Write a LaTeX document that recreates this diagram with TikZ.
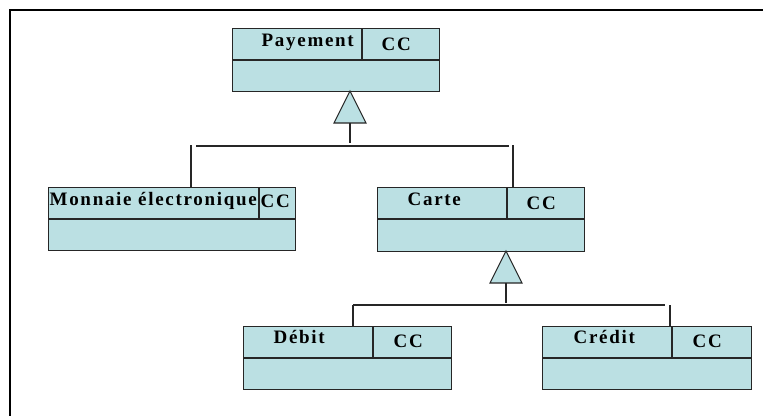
\documentclass[tikz,border=0pt]{standalone}
\usepackage{fontspec}
\setmainfont{Liberation Serif}[LetterSpace=9]
\begin{document}
\begin{tikzpicture}[x=1pt,y=-1pt,line width=1.3pt,
  classbox/.style={draw=black!85, fill=umlfill, rectangle, inner sep=0pt,
    anchor=north west},
  lbl/.style={inner sep=0pt, anchor=base west, font=\fontsize{19}{21}\selectfont\bfseries},
  link/.style={draw=black!85, line width=1.3pt},
  gen/.style={draw=black!85, fill=umlfill, line width=1.1pt, line join=miter}]
\definecolor{umlfill}{RGB}{187,224,227}
\useasboundingbox (0,0) rectangle (763,415);
% frame (only top and left edges fall inside the page)
\draw[line width=1.4pt] (10,430) -- (10,10) -- (780,10);

% class boxes: name compartment + empty attribute compartment
\node[classbox, minimum width=207pt, minimum height=63pt] (pay) at (232,28) {};
\node[classbox, minimum width=247pt, minimum height=63pt] (mon) at (48,187) {};
\node[classbox, minimum width=207pt, minimum height=64pt] (car) at (377,187) {};
\node[classbox, minimum width=208pt, minimum height=63pt] (deb) at (243,326) {};
\node[classbox, minimum width=209pt, minimum height=63pt] (cre) at (542,326) {};

\draw[link] (pay.west |- 0,60) -- (pay.east |- 0,60) (362,28) -- (362,60);
\draw[link] (mon.west |- 0,219) -- (mon.east |- 0,219) (259,187) -- (259,219);
\draw[link] (car.west |- 0,219) -- (car.east |- 0,219) (507,187) -- (507,219);
\draw[link] (deb.west |- 0,358) -- (deb.east |- 0,358) (373,326) -- (373,358);
\draw[link] (cre.west |- 0,358) -- (cre.east |- 0,358) (672,326) -- (672,358);

% labels
\node[lbl] (payn) at (261,46) {Payement};
\node[lbl] (payc) at (381,50) {CC};
\node[lbl] (monn) at (49,205) {Monnaie électronique};
\node[lbl] (monc) at (260,207) {CC};
\node[lbl] (carn) at (407,205) {Carte};
\node[lbl] (carc) at (526,209) {CC};
\node[lbl] (debn) at (273,343) {Débit};
\node[lbl] (debc) at (393,347) {CC};
\node[lbl] (cren) at (573,343) {Crédit};
\node[lbl] (crec) at (692,347) {CC};

% generalisation: Payement <- {Monnaie électronique, Carte}
\coordinate (a1) at (350,91);
\coordinate (t1) at (350,123);
\coordinate (b1) at (350,143);
\coordinate (m1) at (191,145);
\coordinate (c1) at (513,145);
\draw[gen] (a1) -- (334,123) -- (366,123) -- cycle;
\draw[link] (t1) -- (b1);
\draw[link] (196,146) -- (509,146);
\draw[link] (m1) -- (m1 |- mon.north);
\draw[link] (c1) -- (c1 |- car.north);

% generalisation: Carte <- {Débit, Crédit}
\coordinate (a2) at (506,251);
\coordinate (t2) at (506,283);
\coordinate (b2) at (506,303);
\coordinate (d2) at (353,305);
\coordinate (r2) at (670,305);
\draw[gen] (a2) -- (490,283) -- (522,283) -- cycle;
\draw[link] (t2) -- (b2);
\draw[link] (353,305) -- (665,305);
\draw[link] (d2) -- (d2 |- deb.north);
\draw[link] (r2) -- (r2 |- cre.north);
\end{tikzpicture}
\end{document}
